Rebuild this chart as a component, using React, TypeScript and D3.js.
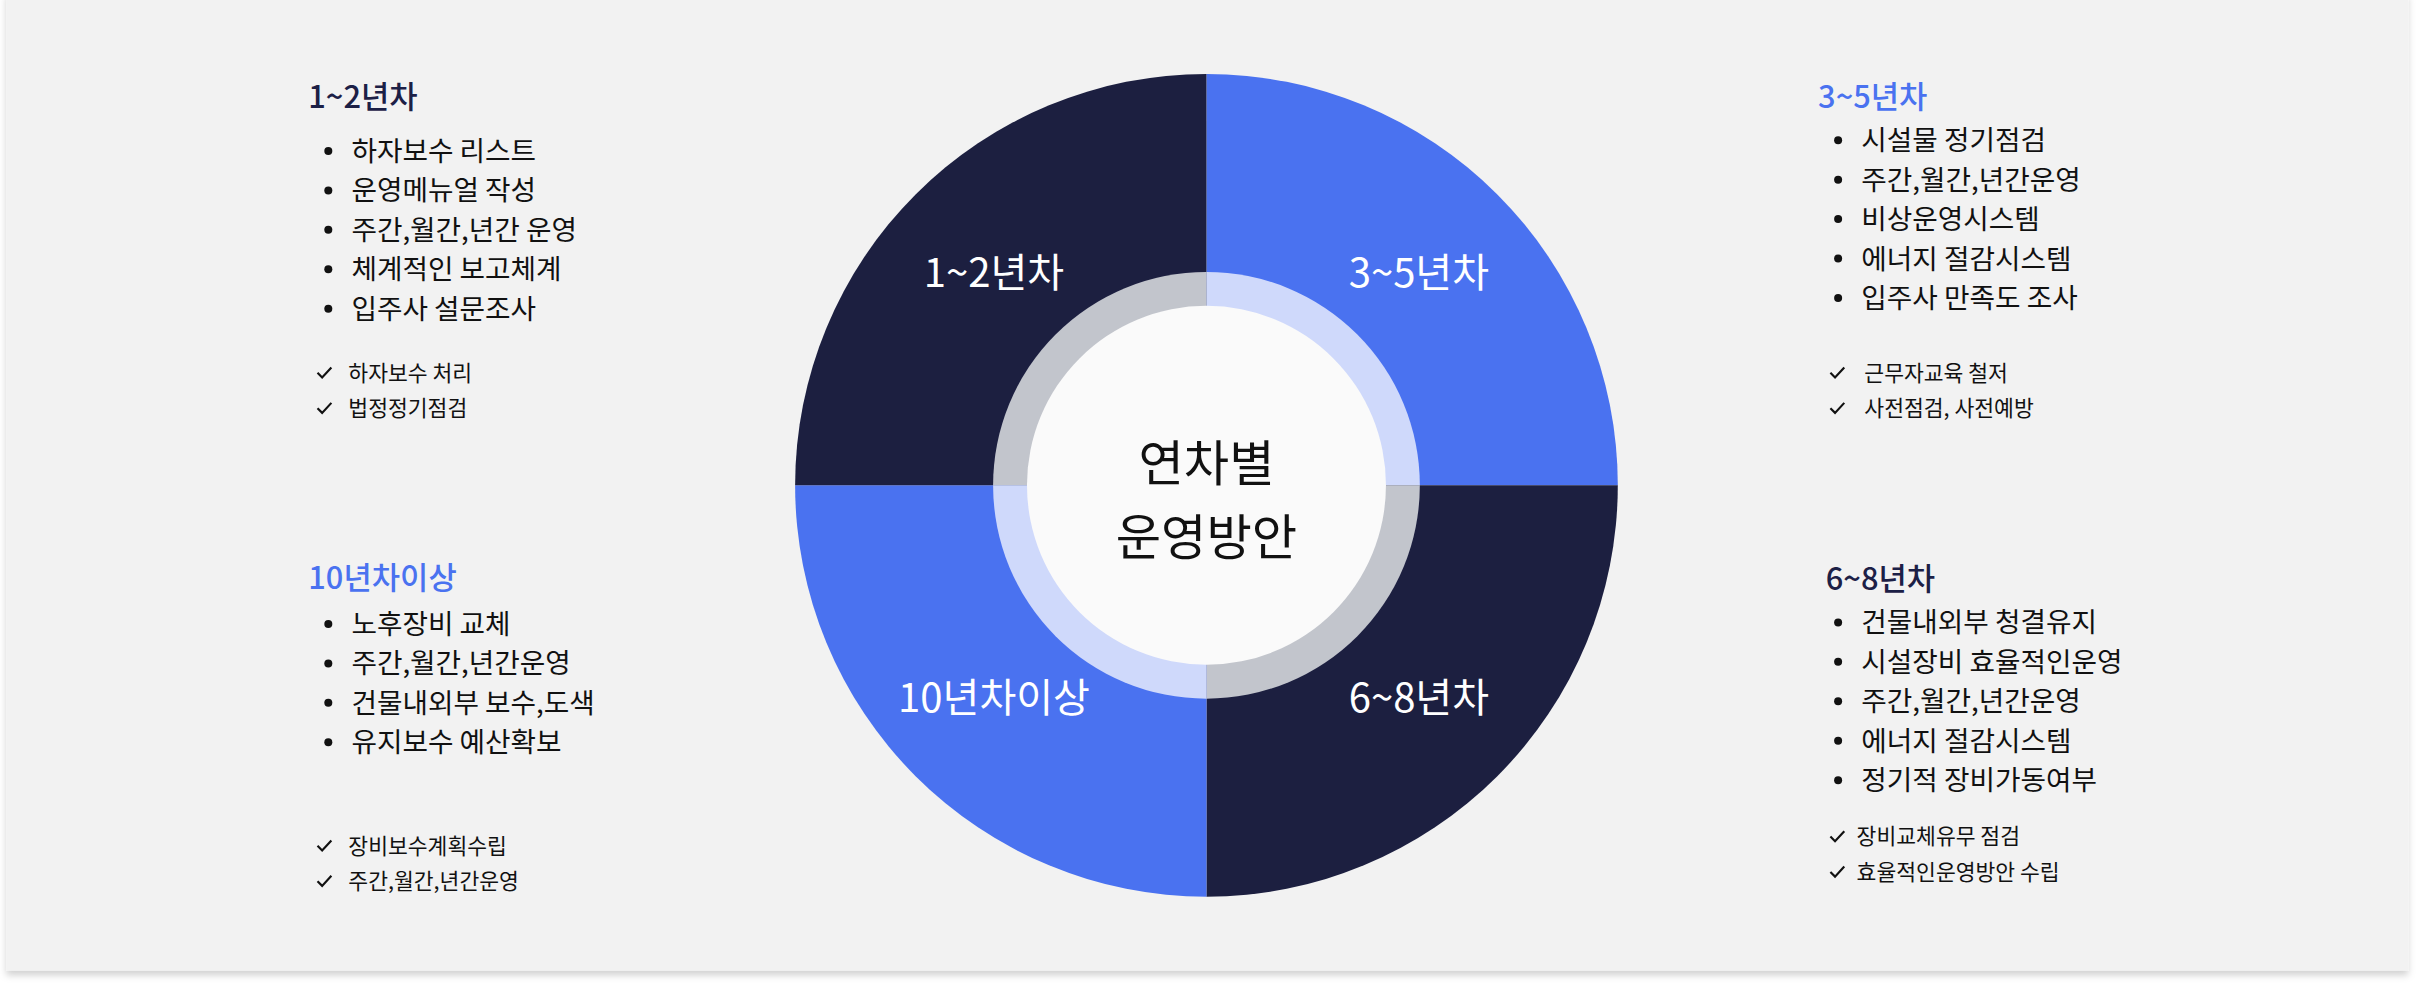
import * as d3 from "d3";

// quadrant data (clockwise from 12 o'clock)
const quadrants = ["3~5년차", "6~8년차", "10년차이상", "1~2년차"];
const quadrantFill = ["#4a72f0", "#1c1f40", "#4a72f0", "#1c1f40"];
const ringFill = ["#cfd9fb", "#c2c5cc", "#cfd9fb", "#c2c5cc"];
const centerLines = ["연차별", "운영방안"];

const blockTitles = ["1~2년차", "3~5년차", "10년차이상", "6~8년차"];
const blockTitleColor = ["#1c2046", "#4a72f0", "#4a72f0", "#1c2046"];
const bullets = [
  ["하자보수 리스트", "운영메뉴얼 작성", "주간,월간,년간 운영", "체계적인 보고체계", "입주사 설문조사"],
  ["시설물 정기점검", "주간,월간,년간운영", "비상운영시스템", "에너지 절감시스템", "입주사 만족도 조사"],
  ["노후장비 교체", "주간,월간,년간운영", "건물내외부 보수,도색", "유지보수 예산확보"],
  ["건물내외부 청결유지", "시설장비 효율적인운영", "주간,월간,년간운영", "에너지 절감시스템", "정기적 장비가동여부"],
];
const checks = [
  ["하자보수 처리", "법정정기점검"],
  ["근무자교육 철저", "사전점검, 사전예방"],
  ["장비보수계획수립", "주간,월간,년간운영"],
  ["장비교체유무 점검", "효율적인운영방안 수립"],
];

const blockLayout = [
  { tx: 200, ty: 63, bx: 213, by: 98, cx: 210, cy: 242, ctx: 226 },
  { tx: 1180, ty: 63, bx: 1193, by: 91, cx: 1192, cy: 242, ctx: 1210 },
  { tx: 200, ty: 375, bx: 213, by: 405, cx: 210, cy: 549, ctx: 226 },
  { tx: 1185, ty: 376, bx: 1193, by: 404, cx: 1192, cy: 543, ctx: 1205 },
];

const W = 1568;
const H = 640;
const FONT = "'Noto Sans CJK KR', 'Noto Sans', sans-serif";

export default function App() {
  const cx = 783;
  const cy = 315;
  const pie = d3.pie<string>().value(() => 1).sort(null);
  const arcs = pie(quadrants);
  const outer = d3.arc<d3.PieArcDatum<string>>().innerRadius(0).outerRadius(267);
  const ring = d3.arc<d3.PieArcDatum<string>>().innerRadius(0).outerRadius(138.5);
  const labelArc = d3.arc<d3.PieArcDatum<string>>().innerRadius(195).outerRadius(195);

  return (
    <svg
      width={2416}
      height={986}
      viewBox={`0 0 ${W} ${H}`}
      style={{ position: "absolute", left: 0, top: 0, background: "#ffffff" }}
      fontFamily={FONT}
    >
      <defs>
        <filter id="sh" x="-5%" y="-5%" width="110%" height="115%">
          <feDropShadow dx="0" dy="3" stdDeviation="2.5" floodColor="#000" floodOpacity="0.18" />
        </filter>
      </defs>
      <rect x={4} y={-5} width={1559} height={635} fill="#f2f2f2" filter="url(#sh)" />
      <g transform={`translate(${cx},${cy})`}>
        {arcs.map((a, i) => (
          <path key={"o" + i} d={outer(a) ?? ""} fill={quadrantFill[i]} />
        ))}
        {arcs.map((a, i) => (
          <path key={"r" + i} d={ring(a) ?? ""} fill={ringFill[i]} />
        ))}
        <circle r={116.5} fill="#fafafa" />
        {arcs.map((a, i) => {
          const [x, y] = labelArc.centroid(a);
          return (
            <text key={"l" + i} x={x} y={y + 9} textAnchor="middle" fontSize={26} fill="#ffffff">
              {a.data}
            </text>
          );
        })}
        {centerLines.map((t, i) => (
          <text key={t} x={0} y={-3 + i * 48} textAnchor="middle" fontSize={32} fill="#111111">
            {t}
          </text>
        ))}
      </g>
      {blockTitles.map((title, bi) => {
        const L = blockLayout[bi];
        return (
          <g key={title}>
            <text x={L.tx} y={L.ty + 7} fontSize={20} fontWeight={500} fill={blockTitleColor[bi]}>
              {title}
            </text>
            {bullets[bi].map((b, j) => (
              <g key={b + j}>
                <circle cx={L.bx} cy={L.by + j * 25.6} r={2.6} fill="#111" />
                <text x={L.bx + 15} y={L.by + j * 25.6 + 6.5} fontSize={18} fill="#111">
                  {b}
                </text>
              </g>
            ))}
            {checks[bi].map((c, j) => {
              const y = L.cy + j * 23;
              return (
                <g key={c}>
                  <path
                    d={`M${L.cx - 4},${y} L${L.cx - 1},${y + 3} L${L.cx + 5},${y - 3.5}`}
                    fill="none"
                    stroke="#111"
                    strokeWidth={1.4}
                  />
                  <text x={L.ctx} y={y + 5} fontSize={14} fill="#111">
                    {c}
                  </text>
                </g>
              );
            })}
          </g>
        );
      })}
    </svg>
  );
}
